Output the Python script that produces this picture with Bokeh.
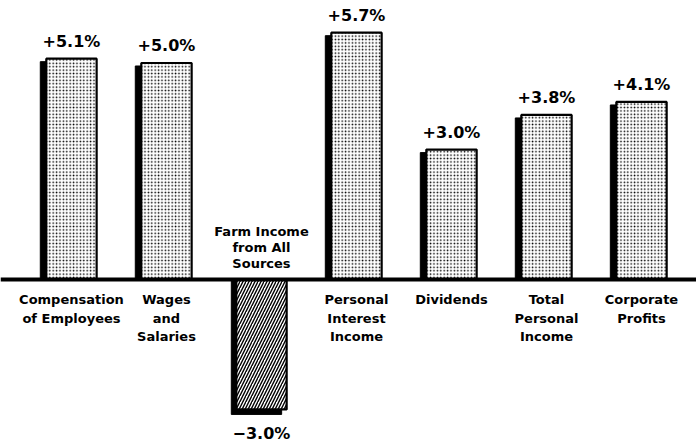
from bokeh.plotting import figure
from bokeh.models import Range1d, Span, ColumnDataSource
from bokeh.core.properties import value
from bokeh.embed import file_html
from bokeh.resources import INLINE

# ---- data ----
categories = ["Compensation\nof Employees", "Wages\nand\nSalaries", "Farm Income\nfrom All\nSources",
              "Personal\nInterest\nIncome", "Dividends", "Total\nPersonal\nIncome", "Corporate\nProfits"]
changes = [5.1, 5.0, -3.0, 5.7, 3.0, 3.8, 4.1]
change_labels = ["+5.1%", "+5.0%", "\u22123.0%", "+5.7%", "+3.0%", "+3.8%", "+4.1%"]

FONT = "DejaVu Sans"
PX_X = 95.0   # pixels per category unit
PX_Y = 43.3   # pixels per percent

p = figure(width=696, height=442, output_backend="svg", toolbar_location=None,
           x_range=Range1d(-0.747, 6.579), y_range=Range1d(-3.764, 6.443),
           min_border_left=0, min_border_right=0, min_border_top=0, min_border_bottom=0)
p.axis.visible = False
p.grid.visible = False
p.outline_line_color = None
p.background_fill_color = "white"

idx = list(range(len(categories)))
pos_i = [i for i in idx if changes[i] >= 0]
neg_i = [i for i in idx if changes[i] < 0]

bw = 0.53
# shadows (3D effect)
p.vbar(x=[i - 6 / PX_X for i in pos_i], width=bw, bottom=0,
       top=[changes[i] - 3 / PX_Y for i in pos_i], fill_color="black", line_color="black")
p.vbar(x=[i - 5 / PX_X for i in neg_i], width=bw, top=0,
       bottom=[changes[i] - 5 / PX_Y for i in neg_i], fill_color="black", line_color="black")

# main bars
p.vbar(x=pos_i, width=bw, bottom=0, top=[changes[i] for i in pos_i],
       fill_color="white", line_color="black", line_width=2.2,
       hatch_pattern="dot", hatch_color="black", hatch_scale=3.4, hatch_weight=1.8)
p.vbar(x=neg_i, width=bw, top=0, bottom=[changes[i] for i in neg_i],
       fill_color="white", line_color="black", line_width=2.2,
       hatch_pattern="right_diagonal_line", hatch_color="black", hatch_scale=6, hatch_weight=1.4)

# baseline
p.add_layout(Span(location=0, dimension="width", line_color="black", line_width=4))

# value labels
vx, vy, vt, voff = [], [], [], []
for i in idx:
    vx.append(i)
    vy.append(changes[i])
    vt.append(change_labels[i])
    voff.append(-17 if changes[i] >= 0 else 24)
p.text(x="x", y="y", text="t", y_offset="o",
       source=ColumnDataSource(dict(x=vx, y=vy, t=vt, o=voff)),
       text_font=value(FONT), text_font_style="bold", text_font_size="16px",
       text_align="center", text_baseline="middle", text_color="black")

# category labels
cx, cy, ct, co = [], [], [], []
for i in idx:
    lines = categories[i].split("\n")
    for k, line in enumerate(lines):
        cx.append(i)
        cy.append(0)
        ct.append(line)
        if changes[i] >= 0:
            co.append(20 + 18.5 * k)
        else:
            co.append(-16 * (len(lines) - k))
p.text(x="x", y="y", text="t", y_offset="o",
       source=ColumnDataSource(dict(x=cx, y=cy, t=ct, o=co)),
       text_font=value(FONT), text_font_style="bold", text_font_size="13px",
       text_align="center", text_baseline="middle", text_color="black")

open("out.html", "w").write(file_html(p, INLINE))
